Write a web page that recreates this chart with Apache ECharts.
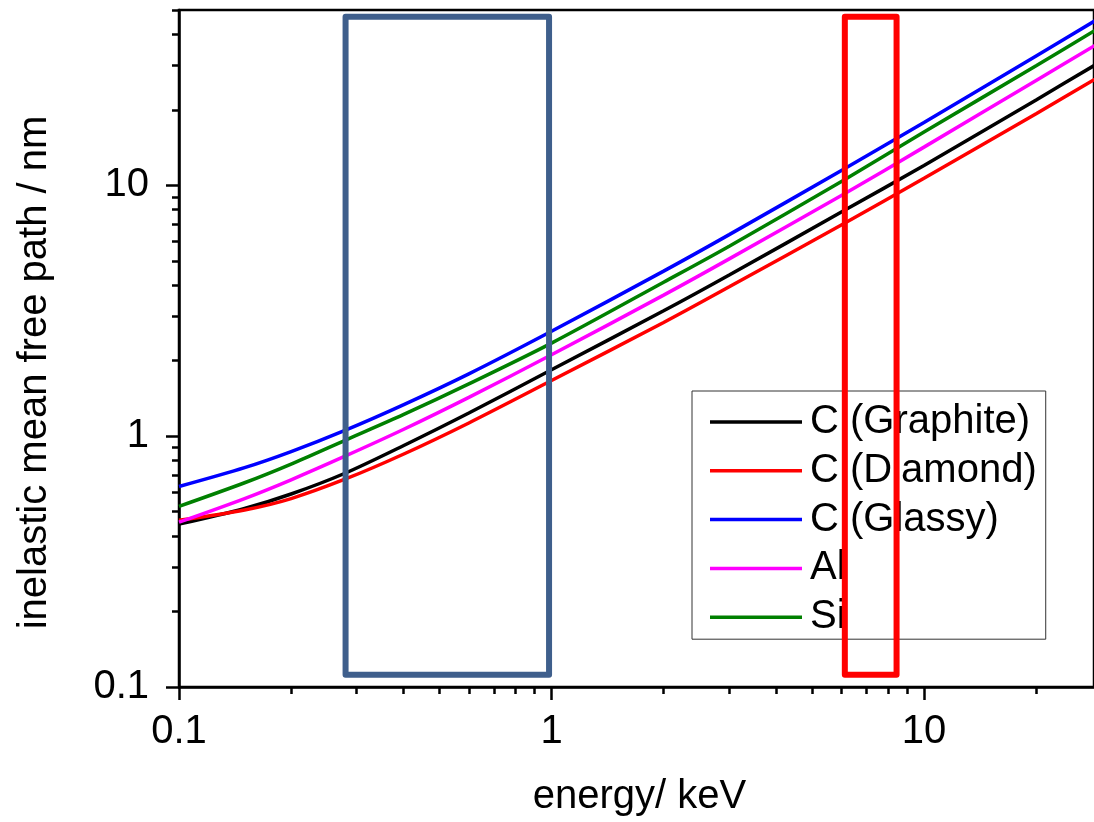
<!DOCTYPE html>
<html><head><meta charset="utf-8">
<script src="https://cdn.jsdelivr.net/npm/echarts@6/dist/echarts.min.js"></script>
<style>html,body{margin:0;padding:0;background:#fff}#c{width:1094px;height:822px}</style>
</head><body><div id="c"></div>
<script>
// energies (keV) at which the curves were read
const energy   = [0.1, 0.15, 0.2, 0.28, 0.4, 0.6, 1, 2, 3, 6.1, 10, 20, 30];
// inelastic mean free path (nm)
const graphite = [0.446, 0.515, 0.588, 0.713, 0.916, 1.237, 1.84, 3.16, 4.39, 7.93, 12.0, 21.9, 31.3];
const diamond  = [0.462, 0.508, 0.564, 0.675, 0.847, 1.129, 1.666, 2.84, 3.94, 7.05, 10.67, 19.3, 27.5];
const glassy   = [0.63, 0.749, 0.868, 1.057, 1.333, 1.772, 2.62, 4.55, 6.36, 11.62, 17.8, 32.8, 47.0];
const al       = [0.454, 0.564, 0.670, 0.834, 1.063, 1.428, 2.11, 3.65, 5.09, 9.24, 14.2, 26.2, 37.5];
const si       = [0.525, 0.652, 0.774, 0.965, 1.218, 1.616, 2.35, 4.11, 5.72, 10.51, 16.3, 30.0, 43.0];

const seriesNames  = ['C (Graphite)', 'C (Diamond)', 'C (Glassy)', 'Al', 'Si'];
const seriesColors = ['#000000', '#ff0000', '#0000ff', '#ff00ff', '#008000'];

// highlighted energy windows [xFrom, xTo, yFrom, yTo]
const windowLow  = [0.28, 0.985, 0.112, 47];
const windowHigh = [6.13, 8.44, 0.112, 47];

// axis ranges and ticks
const xRange = [0.1, 28.6];
const yRange = [0.1, 50];
const xMajor = [0.1, 1, 10];
const xMajorLabels = ['0.1', '1', '10'];
const xMinor = [0.2,0.3,0.4,0.5,0.6,0.7,0.8,0.9,2,3,4,5,6,7,8,9,20];
const yMajor = [0.1, 1, 10];
const yMajorLabels = ['0.1', '1', '10'];
const yMinor = [0.2,0.3,0.4,0.5,0.6,0.7,0.8,0.9,2,3,4,5,6,7,8,9,20,30,40,50];

const FONT = '"Liberation Sans", Arial, sans-serif';
const allData = [graphite, diamond, glassy, al, si];

function lbl(values, labels) {
  return v => { for (let i = 0; i < values.length; i++) if (Math.abs(v - values[i]) < values[i] * 1e-6) return labels[i]; return ''; };
}

const chart = echarts.init(document.getElementById('c'));
const series = seriesNames.map((n, i) => ({
  name: n, type: 'line', xAxisIndex: 0, yAxisIndex: 0,
  data: energy.map((e, j) => [e, allData[i][j]]),
  symbol: 'none', smooth: 0.3,
  lineStyle: { width: 3.5, color: seriesColors[i] }, itemStyle: { color: seriesColors[i] },
  z: 3
}));
series.push({
  type: 'line', data: [], xAxisIndex: 0, yAxisIndex: 0, z: 10, silent: true,
  markArea: {
    z: 10, silent: true,
    data: [
      [{ coord: [windowLow[0], windowLow[2]], itemStyle: { color: 'rgba(0,0,0,0)', borderColor: '#3f5f8c', borderWidth: 6, borderJoin: 'round' } },
       { coord: [windowLow[1], windowLow[3]] }],
      [{ coord: [windowHigh[0], windowHigh[2]], itemStyle: { color: 'rgba(0,0,0,0)', borderColor: '#ff0000', borderWidth: 6, borderJoin: 'round' } },
       { coord: [windowHigh[1], windowHigh[3]] }]
    ]
  }
});

chart.setOption({
  animation: false,
  backgroundColor: '#fff',
  grid: { left: 179, top: 10, right: 0, bottom: 127, show: true, borderColor: '#000', borderWidth: 2.5, backgroundColor: 'rgba(0,0,0,0)' },
  legend: {
    orient: 'vertical', left: 692, top: 391, padding: [9, 9, 0, 18], itemGap: 4.8,
    itemWidth: 92, itemHeight: 3.5, icon: 'rect',
    borderColor: '#333', borderWidth: 1, backgroundColor: '#fff',
    textStyle: { fontSize: 40, fontFamily: FONT, color: '#000', lineHeight: 44, padding: [0, 0, 0, 3] },
    data: seriesNames
  },
  xAxis: [
    { type: 'log', logBase: 10, min: xRange[0], max: xRange[1], position: 'bottom',
      axisLine: { lineStyle: { color: '#000', width: 2.5 } },
      axisTick: { length: 13, lineStyle: { color: '#000', width: 2.5 }, customValues: xMajor },
      axisLabel: { customValues: xMajor, formatter: lbl(xMajor, xMajorLabels), fontSize: 40, fontFamily: FONT, color: '#000', margin: 25 },
      splitLine: { show: false },
      name: 'energy/ keV', nameLocation: 'middle', nameGap: 90,
      nameTextStyle: { fontSize: 40, fontFamily: FONT, color: '#000', padding: [0, 0, 0, 6] } },
    { type: 'log', logBase: 10, min: xRange[0], max: xRange[1], position: 'bottom',
      axisLine: { show: false },
      axisTick: { length: 7, lineStyle: { color: '#000', width: 2.5 }, customValues: xMinor },
      axisLabel: { show: false }, splitLine: { show: false } }
  ],
  yAxis: [
    { type: 'log', logBase: 10, min: yRange[0], max: yRange[1], position: 'left',
      axisLine: { lineStyle: { color: '#000', width: 2.5 } },
      axisTick: { length: 13, lineStyle: { color: '#000', width: 2.5 }, customValues: yMajor },
      axisLabel: { customValues: yMajor, formatter: lbl(yMajor, yMajorLabels), fontSize: 40, fontFamily: FONT, color: '#000', margin: 30 },
      splitLine: { show: false },
      name: 'inelastic mean free path / nm', nameLocation: 'middle', nameGap: 124,
      nameTextStyle: { fontSize: 40, fontFamily: FONT, color: '#000', padding: [0, 48, 0, 0] } },
    { type: 'log', logBase: 10, min: yRange[0], max: yRange[1], position: 'left',
      axisLine: { show: false },
      axisTick: { length: 7, lineStyle: { color: '#000', width: 2.5 }, customValues: yMinor },
      axisLabel: { show: false }, splitLine: { show: false } }
  ],
  series: series
});
</script></body></html>
